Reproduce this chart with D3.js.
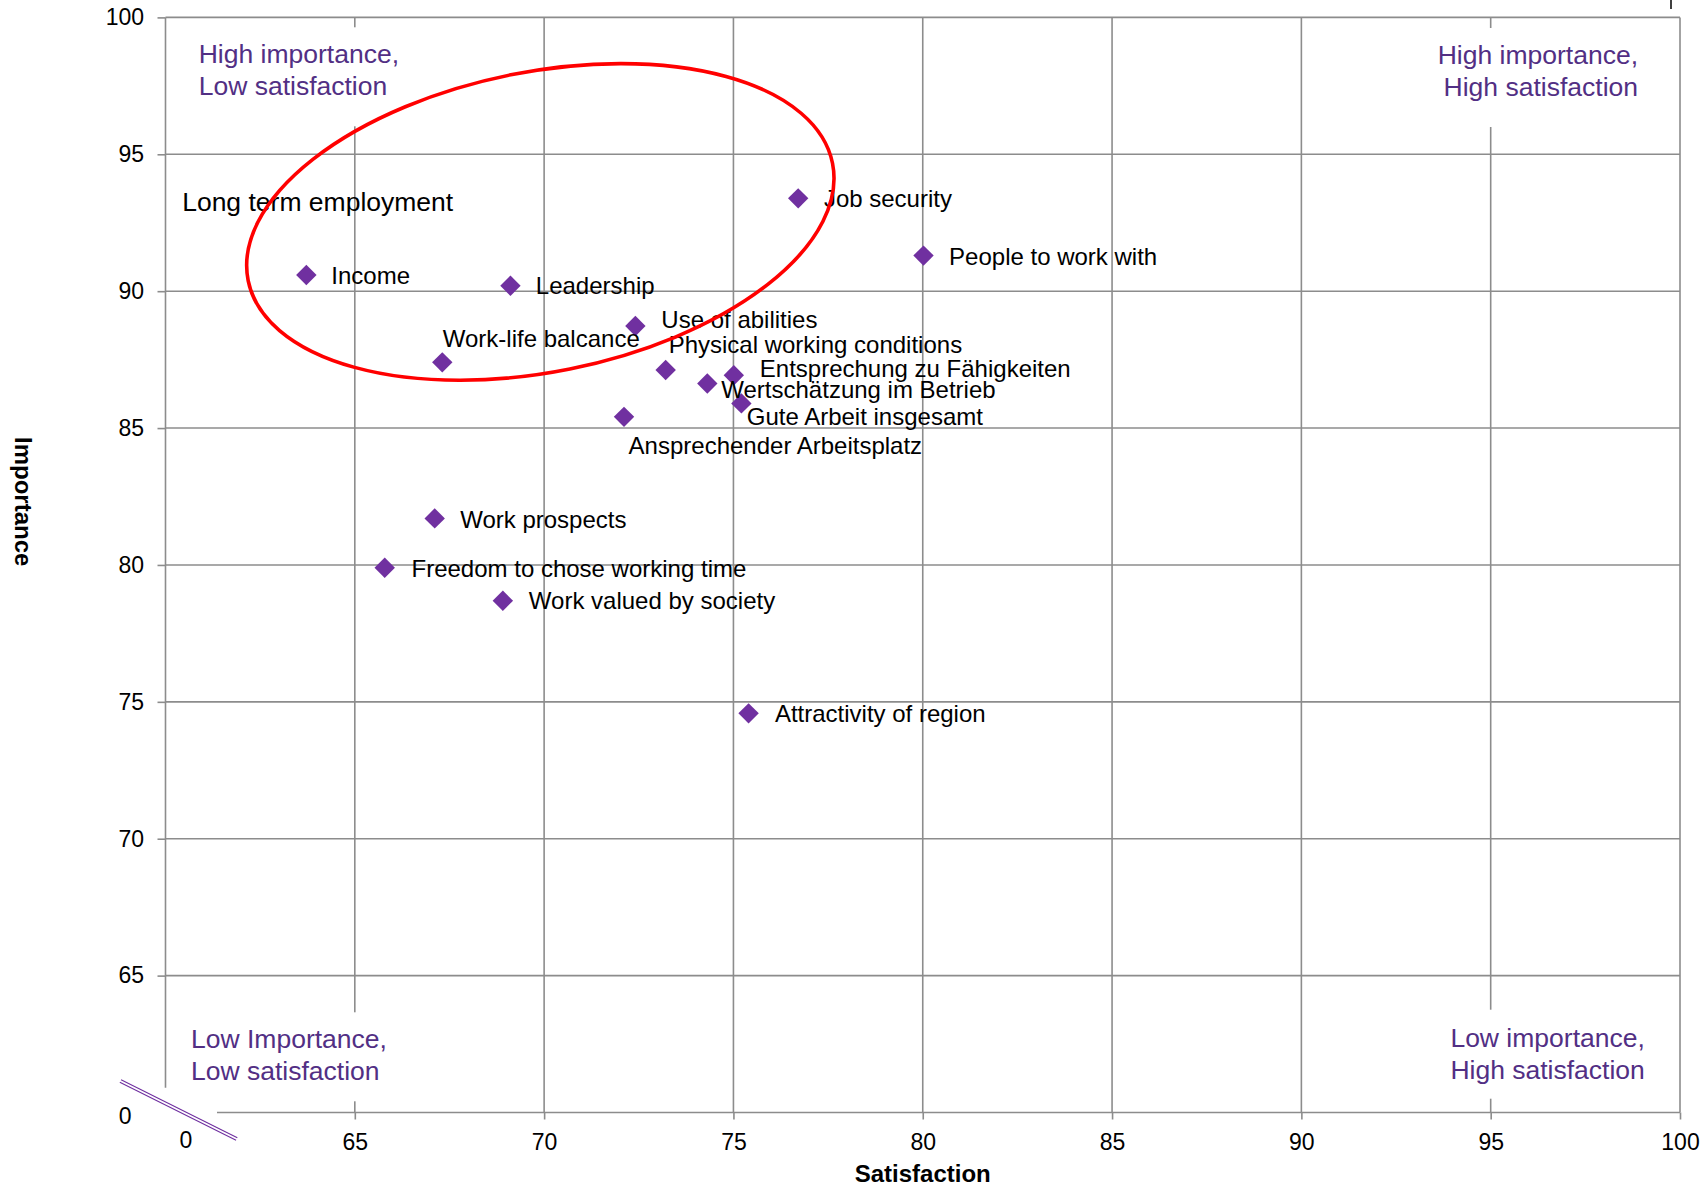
<!DOCTYPE html>
<html>
<head>
<meta charset="utf-8">
<script src="https://cdn.jsdelivr.net/npm/d3@7"></script>
<style>
  html, body { margin: 0; background: #fff; }
  svg { display: block; font-family: "Liberation Sans", Arial, Helvetica, sans-serif; }
</style>
</head>
<body>
<svg id="chart" width="1707" height="1187"></svg>
<script>
// ---- data -----------------------------------------------------------------
const items = [
  "Income", "Leadership", "Work-life balcance", "Use of abilities",
  "Physical working conditions", "Wertschätzung im Betrieb",
  "Entsprechung zu Fähigkeiten", "Gute Arbeit insgesamt",
  "Ansprechender Arbeitsplatz", "Job security", "People to work with",
  "Work prospects", "Freedom to chose working time",
  "Work valued by society", "Attractivity of region"
];
const satisfaction = [63.72, 69.11, 67.31, 72.41, 73.21, 74.31, 75.01, 75.21, 72.11, 76.71, 80.02, 67.11, 65.79, 68.91, 75.40];
const importance   = [90.59, 90.20, 87.40, 88.73, 87.12, 86.63, 86.93, 85.90, 85.41, 93.39, 91.30, 81.70, 79.90, 78.69, 74.58];

const xTicks = [65, 70, 75, 80, 85, 90, 95, 100];
const yTicks = [65, 70, 75, 80, 85, 90, 95, 100];
const originLabel = "0";

const quadrantText = [
  ["High importance,", "Low satisfaction"],
  ["High importance,", "High satisfaction"],
  ["Low Importance,", "Low satisfaction"],
  ["Low importance,", "High satisfaction"]
];
const highlightNote = "Long term employment";
const xTitle = "Satisfaction";
const yTitle = "Importance";

// ---- layout ---------------------------------------------------------------
const W = 1707, H = 1187;
const margin = { top: 17.4, right: 27, bottom: 74.5, left: 165.5 };
const GRID = "#8c8c8c";
const MARK = "#7030a0";
const QUAD = "#522f84";

// label offsets (px) from each diamond: [dx, baseline dy]
const labelOffset = [
  [25, 9], [25.4, 8.3], [0.5, -15.6], [26, 1.7],
  [3, -17.3], [14, 15], [26, 2], [5.4, 21.7],
  [4.6, 37.3], [25.7, 9], [25.6, 9.3],
  [25.5, 9.4], [26.8, 9], [26, 8.6], [26.3, 8.4]
];

// quadrant label placement: anchor x (px), first baseline (px), text-anchor, box padding [top, bottom]
const quadrantPlace = [
  { x: 198.7,  y: 63.3,   anchor: "start", pad: [12, 25] },
  { x: 1638,   y: 64,     anchor: "end",   pad: [12, 25] },
  { x: 191,    y: 1048.3, anchor: "start", pad: [12, 15] },
  { x: 1450.4, y: 1046.7, anchor: "start", pad: [13, 14] }
];

const x = d3.scaleLinear().domain([60, 100]).range([margin.left, W - margin.right]);
const y = d3.scaleLinear().domain([60, 100]).range([H - margin.bottom, margin.top]);

const svg = d3.select("#chart");

// ---- gridlines ------------------------------------------------------------
const grid = svg.append("g").attr("stroke", GRID).attr("stroke-width", 1.6);
grid.selectAll("line.v").data(xTicks).join("line")
  .attr("class", "v")
  .attr("x1", d => x(d)).attr("x2", d => x(d))
  .attr("y1", y(60)).attr("y2", y(100));
grid.selectAll("line.h").data(yTicks).join("line")
  .attr("class", "h")
  .attr("x1", x(60)).attr("x2", x(100))
  .attr("y1", d => y(d)).attr("y2", d => y(d));

// axis lines, interrupted at the origin by the break mark
const axisBreak = { xStart: 61.36, yEnd: 60.9 };
grid.append("line")
  .attr("x1", x(60)).attr("x2", x(60))
  .attr("y1", y(100)).attr("y2", y(axisBreak.yEnd));
grid.append("line")
  .attr("x1", x(axisBreak.xStart)).attr("x2", x(100))
  .attr("y1", y(60)).attr("y2", y(60));

// ---- axes (ticks + labels) ------------------------------------------------
const xAxis = svg.append("g")
  .attr("transform", `translate(0,${y(60)})`)
  .call(d3.axisBottom(x).tickValues(xTicks).tickSize(7).tickPadding(14));
const yAxis = svg.append("g")
  .attr("transform", `translate(${x(60)},0)`)
  .call(d3.axisLeft(y).tickValues(yTicks).tickSize(8).tickPadding(13.5));
[xAxis, yAxis].forEach(g => {
  g.select(".domain").remove();
  g.selectAll(".tick line").attr("stroke", GRID).attr("stroke-width", 1.6);
  g.selectAll(".tick text")
    .attr("fill", "#000")
    .style("font-family", "'Liberation Sans', Arial, sans-serif")
    .style("font-size", "23px");
});

// origin labels beside the break
svg.append("text").text(originLabel)
  .attr("x", x(60) + 20.5).attr("y", y(60) + 35)
  .attr("text-anchor", "middle").attr("font-size", 23);
svg.append("text").text(originLabel)
  .attr("x", x(60) - 34).attr("y", y(60) + 11.5)
  .attr("text-anchor", "end").attr("font-size", 23);

// axis break mark: two thin parallel strokes
const b0 = [x(58.81), y(61.15)], b1 = [x(61.88), y(59.03)];
const len = Math.hypot(b1[0] - b0[0], b1[1] - b0[1]);
const nx = -(b1[1] - b0[1]) / len, ny = (b1[0] - b0[0]) / len;
[-1.4, 1.4].forEach(o => {
  svg.append("line")
    .attr("x1", b0[0] + nx * o).attr("y1", b0[1] + ny * o)
    .attr("x2", b1[0] + nx * o).attr("y2", b1[1] + ny * o)
    .attr("stroke", MARK).attr("stroke-width", 1.1);
});

// ---- quadrant captions on white panels -----------------------------------
quadrantText.forEach((lines, i) => {
  const p = quadrantPlace[i];
  const g = svg.append("g");
  const t = g.append("text")
    .attr("fill", QUAD).attr("font-size", 26.5)
    .attr("text-anchor", p.anchor);
  lines.forEach((s, j) => {
    t.append("tspan").attr("x", p.x).attr("y", p.y + j * 32).text(s);
  });
  const bb = t.node().getBBox();
  g.insert("rect", "text")
    .attr("x", bb.x - 10).attr("y", bb.y - p.pad[0])
    .attr("width", bb.width + 20).attr("height", bb.height + p.pad[0] + p.pad[1])
    .attr("fill", "#fff");
});

// ---- points ---------------------------------------------------------------
const R = 10.2;
const diamond = `M0,${-R}L${R},0L0,${R}L${-R},0Z`;
svg.append("g").selectAll("path").data(items).join("path")
  .attr("d", diamond)
  .attr("transform", (d, i) => `translate(${x(satisfaction[i])},${y(importance[i])})`)
  .attr("fill", MARK);

svg.append("g").selectAll("text").data(items).join("text")
  .attr("x", (d, i) => x(satisfaction[i]) + labelOffset[i][0])
  .attr("y", (d, i) => y(importance[i]) + labelOffset[i][1])
  .attr("font-size", 24)
  .attr("fill", "#000")
  .text(d => d);

// free-standing note
svg.append("text").text(highlightNote)
  .attr("x", x(60.44)).attr("y", y(92.93))
  .attr("font-size", 26.5).attr("fill", "#000");

// ---- highlight ellipse ----------------------------------------------------
const ring = { cx: 69.90, cy: 92.53, rx: 298, ry: 150, angle: -11.35 };
svg.append("ellipse")
  .attr("cx", 0).attr("cy", 0).attr("rx", ring.rx).attr("ry", ring.ry)
  .attr("transform", `translate(${x(ring.cx)},${y(ring.cy)}) rotate(${ring.angle})`)
  .attr("fill", "none").attr("stroke", "#ff0000").attr("stroke-width", 3.6);

// ---- axis titles ----------------------------------------------------------
svg.append("text").text(xTitle)
  .attr("x", (x(60) + x(100)) / 2).attr("y", 1182)
  .attr("text-anchor", "middle").attr("font-size", 24).attr("font-weight", "bold");
svg.append("text").text(yTitle)
  .attr("transform", `translate(15,501.7) rotate(90)`)
  .attr("text-anchor", "middle").attr("font-size", 24).attr("font-weight", "bold");

// small edge mark at the top right
svg.append("line")
  .attr("x1", 1671).attr("x2", 1671).attr("y1", 0).attr("y2", 9)
  .attr("stroke", "#000").attr("stroke-width", 1.5);
</script>
</body>
</html>
